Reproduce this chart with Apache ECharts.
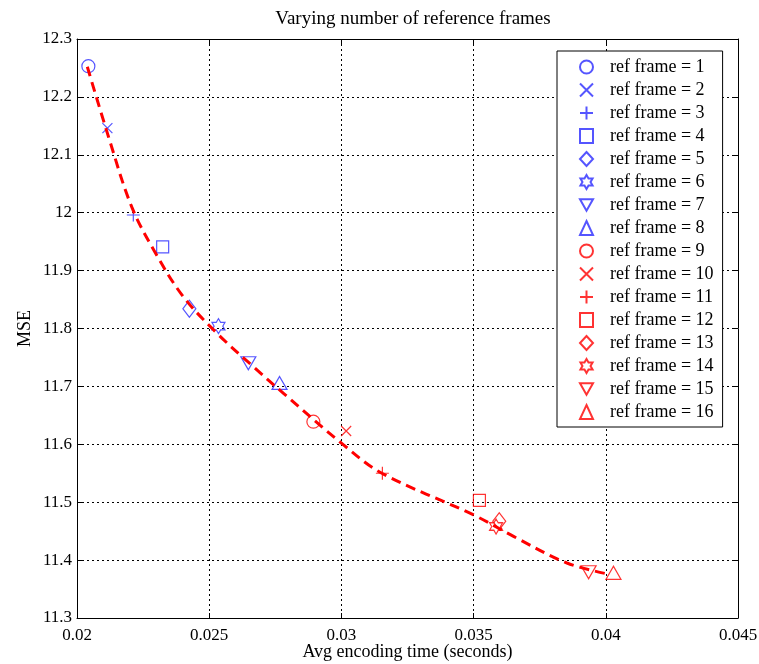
<!DOCTYPE html>
<html>
<head>
<meta charset="utf-8">
<script src="https://cdn.jsdelivr.net/npm/echarts@6/dist/echarts.min.js"></script>
<style>html,body{margin:0;padding:0;background:#fff;}#c{width:759px;height:664px;}</style>
</head>
<body>
<div id="c"></div>
<script>
// ---- data ----
const refNames = ['ref frame = 1','ref frame = 2','ref frame = 3','ref frame = 4','ref frame = 5','ref frame = 6','ref frame = 7','ref frame = 8','ref frame = 9','ref frame = 10','ref frame = 11','ref frame = 12','ref frame = 13','ref frame = 14','ref frame = 15','ref frame = 16'];
const encTime = [0.02043, 0.02115, 0.02213, 0.02324, 0.02425, 0.02535, 0.02648, 0.02766, 0.02894, 0.03018, 0.03155, 0.03522, 0.03597, 0.03585, 0.03935, 0.04029];
const mseVals = [12.253, 12.146, 11.996, 11.941, 11.834, 11.804, 11.740, 11.706, 11.639, 11.623, 11.550, 11.503, 11.467, 11.458, 11.379, 11.378];
const curveX = [0.02039, 0.02120, 0.02207, 0.02301, 0.02402, 0.02529, 0.02667, 0.02781, 0.03008, 0.03153, 0.03500, 0.03651, 0.03853, 0.04017];
const curveY = [12.252, 12.130, 12.010, 11.927, 11.855, 11.792, 11.734, 11.688, 11.599, 11.550, 11.478, 11.441, 11.395, 11.375];
const xTicks = [0.02, 0.025, 0.03, 0.035, 0.04, 0.045];
const yTicks = [11.3, 11.4, 11.5, 11.6, 11.7, 11.8, 11.9, 12, 12.1, 12.2, 12.3];

// ---- styles ----
const FONT = '"Liberation Serif", "DejaVu Serif", serif';
const BLUE = '#2a2aff', RED = '#ff0000';
const hexagram = 'path://M10,0L12.89,5L18.66,5L15.77,10L18.66,15L12.89,15L10,20L7.11,15L1.34,15L4.23,10L1.34,5L7.11,5Z';
const markerDefs = [
  {symbol:'circle', size:13},
  {symbol:'path://M0,0L10,10M10,0L0,10', size:10},
  {symbol:'path://M5,0L5,10M0,5L10,5', size:13},
  {symbol:'rect', size:12},
  {symbol:'diamond', size:[13,17]},
  {symbol:hexagram, size:[13,15]},
  {symbol:'path://M0,0L10,0L5,8.66Z', size:[15,13]},
  {symbol:'triangle', size:[15,13]}
];

const series = refNames.map((name, i) => {
  const m = markerDefs[i % 8];
  const col = i < 8 ? BLUE : RED;
  return {
    name: name,
    type: 'scatter',
    z: 2,
    symbol: m.symbol,
    symbolSize: m.size,
    itemStyle: {color: 'rgba(0,0,0,0)', borderColor: col, borderWidth: 1.2},
    emphasis: {disabled: true},
    data: [[encTime[i], mseVals[i]]]
  };
});
series.push({
  name: 'fit',
  type: 'line',
  z: 3,
  smooth: 0.35,
  showSymbol: false,
  symbol: 'none',
  lineStyle: {color: RED, width: 3, type: [10, 6]},
  data: curveX.map((x, i) => [x, curveY[i]])
});

const xMin = xTicks[0], xMax = xTicks[xTicks.length-1];
const yMin = yTicks[0], yMax = yTicks[yTicks.length-1];
const tickLbl = {fontFamily: FONT, fontSize: 17, color: '#000'};
const gridLine = {show: true, lineStyle: {color: '#000', width: 1, type: [2, 3]}};

const chart = echarts.init(document.getElementById('c'), null, {renderer: 'canvas'});
chart.setOption({
  backgroundColor: '#fff',
  animation: false,
  title: {
    text: 'Varying number of reference frames',
    left: 408, top: 5, textAlign: 'center',
    textStyle: {fontFamily: FONT, fontSize: 19, fontWeight: 'normal', color: '#000'}
  },
  grid: {left: 77, right: 21, top: 39, bottom: 46, containLabel: false, outerBoundsMode: 'none'},
  legend: {
    orient: 'vertical',
    left: 557, top: 51,
    padding: [7, 9, 6, 22],
    itemWidth: 13, itemHeight: 14, itemGap: 5,
    backgroundColor: '#fff', borderColor: '#000', borderWidth: 1, borderRadius: 0,
    textStyle: {fontFamily: FONT, fontSize: 18, color: '#000', padding: [0, 0, 0, 12]},
    selectedMode: false,
    data: refNames
  },
  xAxis: [{
    type: 'value', min: xMin, max: xMax, interval: 0.005,
    name: 'Avg encoding time (seconds)', nameLocation: 'middle', nameGap: 25, nameMoveOverlap: false,
    nameTextStyle: {fontFamily: FONT, fontSize: 18, color: '#000'},
    axisLine: {show: true, lineStyle: {color: '#000', width: 1}},
    axisTick: {show: true, inside: true, length: 5, lineStyle: {color: '#000'}},
    axisLabel: Object.assign({margin: 9}, tickLbl),
    splitLine: gridLine
  }, {
    type: 'value', position: 'top', min: xMin, max: xMax, interval: 0.005,
    axisLine: {show: true, lineStyle: {color: '#000', width: 1}},
    axisTick: {show: true, inside: true, length: 5, lineStyle: {color: '#000'}},
    axisLabel: {show: false}, splitLine: {show: false}
  }],
  yAxis: [{
    type: 'value', min: yMin, max: yMax, interval: 0.1,
    name: 'MSE', nameLocation: 'middle', nameGap: 43, nameRotate: 90, nameMoveOverlap: false,
    nameTextStyle: {fontFamily: FONT, fontSize: 18, color: '#000'},
    axisLine: {show: true, lineStyle: {color: '#000', width: 1}},
    axisTick: {show: true, inside: true, length: 5, lineStyle: {color: '#000'}},
    axisLabel: Object.assign({margin: 5}, tickLbl),
    splitLine: gridLine
  }, {
    type: 'value', position: 'right', min: yMin, max: yMax, interval: 0.1,
    axisLine: {show: true, lineStyle: {color: '#000', width: 1}},
    axisTick: {show: true, inside: true, length: 5, lineStyle: {color: '#000'}},
    axisLabel: {show: false}, splitLine: {show: false}
  }],
  series: series
});
</script>
</body>
</html>
